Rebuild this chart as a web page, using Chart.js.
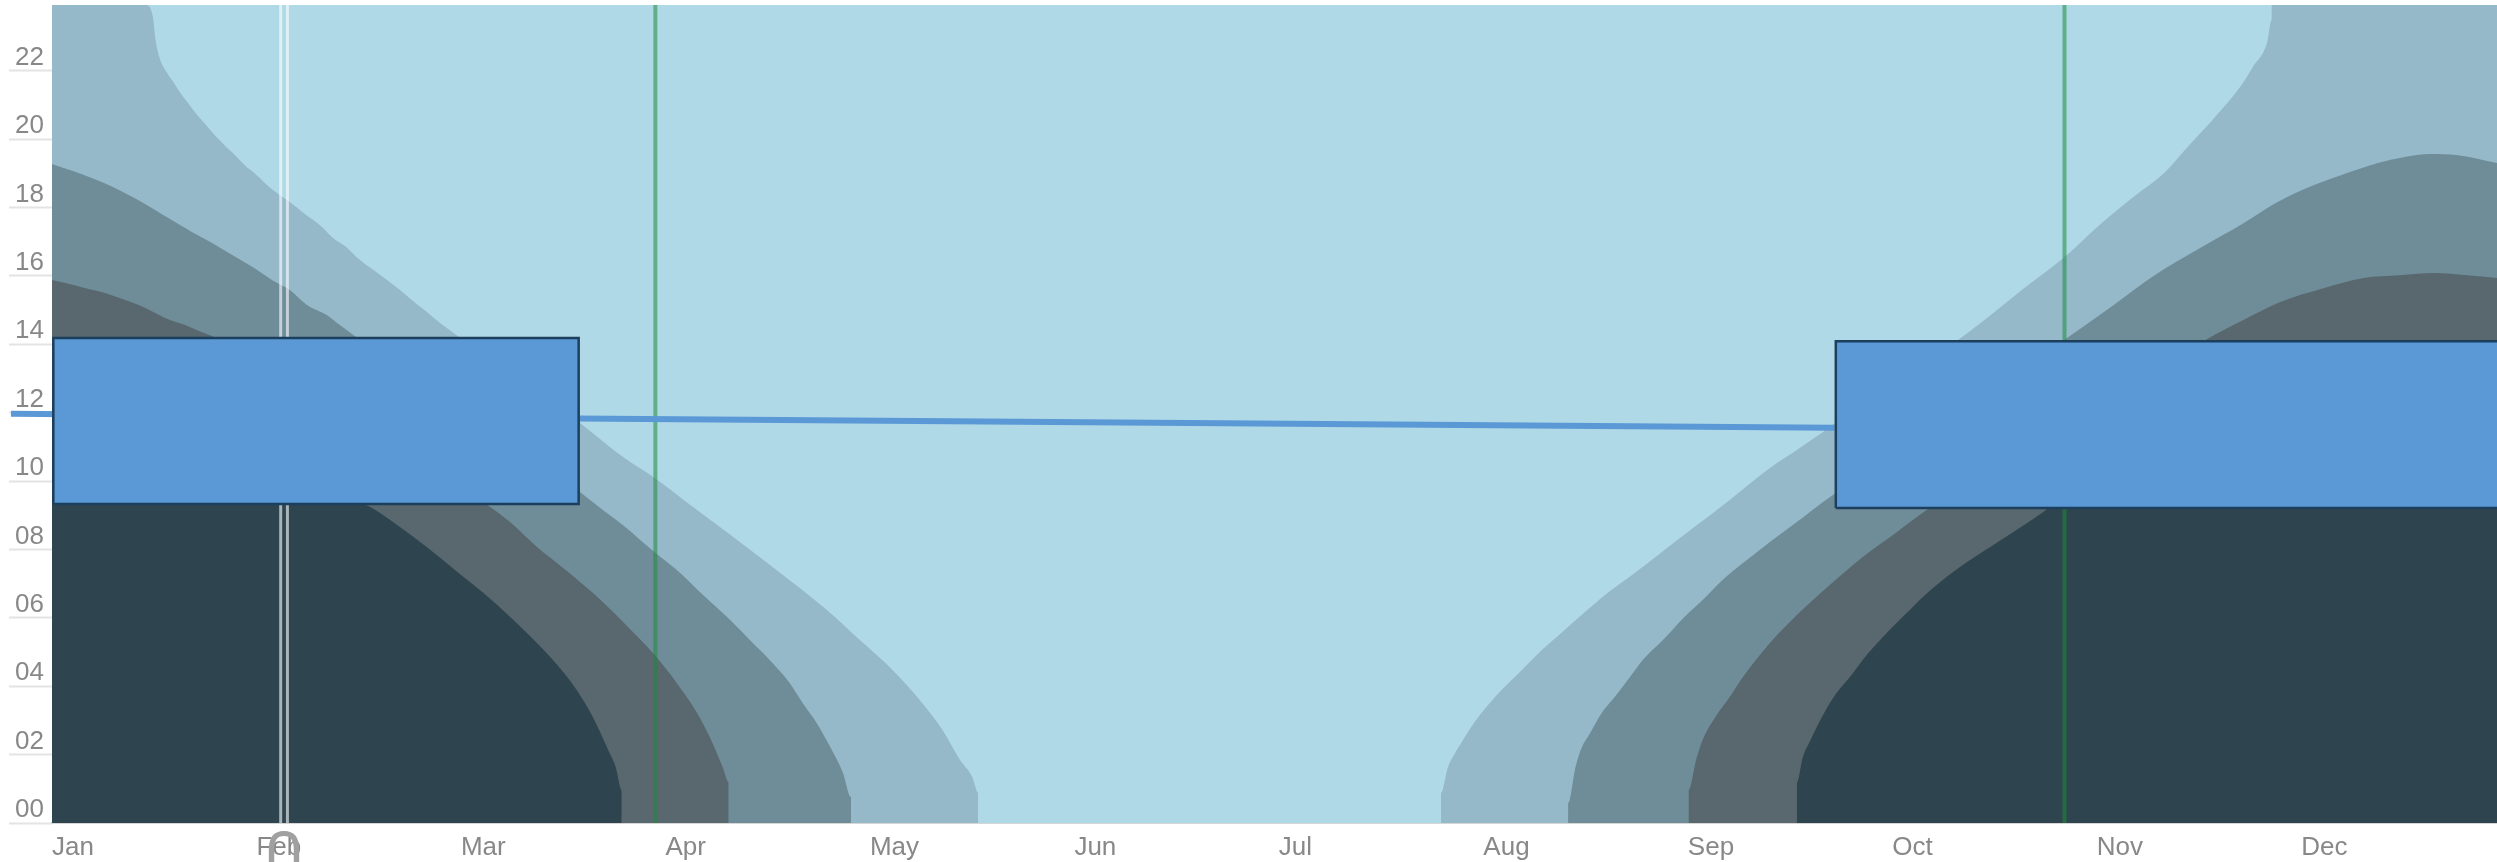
<!DOCTYPE html>
<html>
<head>
<meta charset="utf-8">
<title>Daylight chart</title>
<script src="https://cdn.jsdelivr.net/npm/chart.js@4"></script>
<style>
    html, body { margin: 0; padding: 0; background: #fff; overflow: hidden; }
    #wrap { position: relative; width: 2497px; height: 862px; }
</style>
</head>
<body>
<div id="wrap"><canvas id="sunChart"></canvas></div>
<script>
// Axis values
const monthLabels = ['Jan', 'Feb', 'Mar', 'Apr', 'May', 'Jun', 'Jul', 'Aug', 'Sep', 'Oct', 'Nov', 'Dec'];
const monthDays = [0, 30.4, 60.8, 91.2, 121.6, 152, 182.4, 212.8, 243.2, 273.6, 304, 334.4];
const hourTicks = [0, 2, 4, 6, 8, 10, 12, 14, 16, 18, 20, 22];
const dayMax = 363.5;
const hourMax = 23.92;

// Band edges, [day of year, hour]
const band1Early = [[0, 23.92], [13.9, 23.92], [15, 23.58], [15.4, 22.89], [16, 22.37], [17, 21.97], [18, 21.68], [19, 21.37], [20, 21.11], [21, 20.85], [22, 20.61], [22.9, 20.41], [23.9, 20.18], [24.9, 19.97], [25.9, 19.77], [26.9, 19.59], [27.9, 19.39], [28.9, 19.19], [29.9, 19.04], [30.9, 18.86], [32, 18.65], [33.9, 18.36], [35.3, 18.17], [37.8, 17.78], [39.8, 17.49], [41.8, 17.11], [43.7, 16.85], [45.8, 16.46], [47.8, 16.17], [49.8, 15.88], [51.8, 15.58], [53.8, 15.24], [55.7, 14.95], [57.7, 14.62], [59.7, 14.33], [60.7, 14.18], [78.5, 11.7], [84.9, 10.7], [89.6, 10.09], [95.3, 9.24], [100.3, 8.51], [105.2, 7.78], [110.2, 7.02], [115.2, 6.23], [120.1, 5.35], [125, 4.47], [129, 3.6], [132.4, 2.72], [135, 1.84], [136.8, 1.35], [137.7, 0.88], [137.7, 0]];
const band2Early = [[0, 19.27], [3, 19.07], [5.9, 18.86], [8.9, 18.61], [11.9, 18.31], [14.9, 17.98], [17.8, 17.63], [20.8, 17.28], [23.8, 16.96], [26.8, 16.61], [29.7, 16.27], [32.7, 15.88], [35.4, 15.58], [37.9, 15.15], [40.9, 14.85], [42.8, 14.56], [44.8, 14.27], [78.5, 9.68], [81.9, 9.15], [84.9, 8.71], [89.6, 7.92], [92.9, 7.4], [96.8, 6.67], [100.8, 5.94], [104.2, 5.26], [106.7, 4.77], [109.7, 4.09], [111.6, 3.51], [113.7, 2.92], [115.7, 2.22], [117.6, 1.46], [118.8, 0.76], [118.8, 0]];
const band3Early = [[0, 15.88], [2, 15.79], [5, 15.64], [7.9, 15.5], [10.9, 15.29], [13.9, 15.06], [16.8, 14.77], [19.8, 14.56], [22, 14.37], [24, 14.22], [64.7, 9.3], [68.1, 8.8], [72.1, 8.07], [76, 7.46], [80.4, 6.73], [84.9, 5.88], [89.6, 4.91], [92.9, 4.09], [95.9, 3.22], [97.8, 2.51], [99.7, 1.64], [100.6, 1.2], [100.6, 0]];
const band4Early = [[0, 12.37], [47.3, 9.24], [50.7, 8.8], [55.7, 8.07], [59.9, 7.4], [64.1, 6.73], [67.8, 6.08], [72.1, 5.26], [75.5, 4.53], [78, 3.89], [80.4, 3.1], [82.7, 2.13], [83.8, 1.64], [84.7, 0.96], [84.7, 0]];
const band1Late = [[206.5, 0], [206.5, 0.88], [207.5, 1.61], [208.6, 2.05], [209.6, 2.37], [211.5, 2.95], [213.5, 3.45], [215.5, 3.89], [218.5, 4.47], [221.5, 5.06], [224.5, 5.58], [227.4, 6.08], [231.3, 6.73], [235.3, 7.31], [239.3, 7.92], [243.2, 8.51], [246.8, 9.04], [250.9, 9.68], [255.4, 10.38], [259.4, 10.91], [263.3, 11.43], [265.1, 11.7], [283.3, 14.12], [288.2, 14.85], [292.8, 15.58], [299.2, 16.55], [304.7, 17.54], [309.4, 18.3], [314, 19.01], [318, 19.88], [321.2, 20.56], [325.3, 21.52], [327.2, 22.11], [329.3, 22.81], [330, 23.48], [330, 23.92], [363.5, 23.92]];
const band2Late = [[225.4, 0], [225.4, 0.58], [226.5, 1.64], [227.4, 2.19], [228.5, 2.57], [230.4, 3.22], [232.3, 3.68], [234.6, 4.27], [236.5, 4.77], [239.5, 5.35], [242.5, 5.99], [245.4, 6.52], [248.4, 7.11], [251.4, 7.6], [255.4, 8.22], [259.4, 8.8], [263.3, 9.39], [299.1, 14.12], [306.1, 15.09], [312.6, 16.02], [319.3, 16.81], [325.8, 17.54], [330.6, 18.13], [335.2, 18.57], [340.4, 18.95], [345.8, 19.3], [349.6, 19.47], [353.6, 19.56], [357.7, 19.53], [363.5, 19.3]];
const band3Late = [[243.3, 0], [243.3, 0.96], [244.5, 1.9], [245.4, 2.43], [247.5, 3.16], [249.4, 3.68], [251.4, 4.27], [255.4, 5.26], [259.4, 6.08], [264.3, 6.96], [269.2, 7.78], [274.3, 8.51], [278.7, 9.15], [320.1, 14.12], [325.8, 14.71], [331.2, 15.23], [337.7, 15.64], [343.7, 15.94], [349, 16.02], [354.2, 16.08], [359, 16.02], [363.5, 15.94]];
const band4Late = [[259.4, 0], [259.4, 1.17], [260.3, 1.93], [261.3, 2.37], [263.3, 3.16], [265.3, 3.8], [267.3, 4.27], [269.2, 4.77], [272.2, 5.44], [276.2, 6.23], [279.3, 6.81], [284.5, 7.6], [289.7, 8.27], [296, 9.09], [304.4, 10.32], [363.5, 12.37]];

// Summary marks
const noonLine = [[-6.1, 11.97], [78, 11.83], [265, 11.56]];
const boxEarly = { from: 0.2, to: 78.3, low: 9.33, high: 14.18 };
const boxLate = { from: 265.2, to: 372, low: 9.21, high: 14.09 };
const clockChangeDays = [89.7, 299.2];
const todayDays = [34.0, 35.0];

const bandColors = ['#96b9ca', '#6f8d99', '#59676e', '#2e444e'];

function bandDataset(points, color, order) {
    return {
        type: 'line',
        data: points.map(p => ({ x: p[0], y: p[1] })),
        backgroundColor: color,
        borderWidth: 0,
        pointRadius: 0,
        fill: 'start',
        cubicInterpolationMode: 'monotone',
        order: order
    };
}

function markerDataset(day, color, width, order) {
    return {
        type: 'line',
        data: [{ x: day, y: 0 }, { x: day, y: hourMax }],
        borderColor: color,
        borderWidth: width,
        pointRadius: 0,
        fill: false,
        order: order
    };
}

function boxDataset(box, order) {
    return {
        type: 'line',
        data: [
            { x: box.from, y: box.low },
            { x: box.from, y: box.high },
            { x: box.to, y: box.high },
            { x: box.to, y: box.low },
            { x: box.from, y: box.low }
        ],
        borderColor: '#1d3f5e',
        backgroundColor: '#5a99d6',
        borderWidth: 2.5,
        pointRadius: 0,
        fill: 'shape',
        order: order
    };
}

const datasets = [
    boxDataset(boxEarly, 1),
    boxDataset(boxLate, 1),
    {
        type: 'line',
        data: noonLine.map(p => ({ x: p[0], y: p[1] })),
        borderColor: '#5a99d6',
        borderWidth: 6,
        pointRadius: 0,
        fill: false,
        clip: false,
        order: 2
    },
    markerDataset(clockChangeDays[0], 'rgba(30, 140, 60, 0.55)', 4, 3),
    markerDataset(clockChangeDays[1], 'rgba(30, 140, 60, 0.55)', 4, 3),
    markerDataset(todayDays[0], 'rgba(255, 255, 255, 0.6)', 3, 3),
    markerDataset(todayDays[1], 'rgba(255, 255, 255, 0.6)', 3, 3),
    bandDataset(band4Early, bandColors[3], 4),
    bandDataset(band4Late, bandColors[3], 4),
    bandDataset(band3Early, bandColors[2], 5),
    bandDataset(band3Late, bandColors[2], 5),
    bandDataset(band2Early, bandColors[1], 6),
    bandDataset(band2Late, bandColors[1], 6),
    bandDataset(band1Early, bandColors[0], 7),
    bandDataset(band1Late, bandColors[0], 7),
    bandDataset([[0, hourMax], [dayMax, hourMax]], '#b0d9e7', 8)
];

// Grey mark hanging below the today lines, cut by the page edge
const todayMark = {
    id: 'todayMark',
    afterDraw(chart) {
        const ctx = chart.ctx;
        const x = chart.scales.x.getPixelForValue((todayDays[0] + todayDays[1]) / 2);
        ctx.save();
        ctx.fillStyle = '#a0a0a0';
        ctx.font = '64px "DejaVu Sans"';
        ctx.textAlign = 'center';
        ctx.textBaseline = 'alphabetic';
        ctx.fillText('∩', x, 868);
        ctx.restore();
    }
};

new Chart(document.getElementById('sunChart'), {
    type: 'line',
    data: { datasets: datasets },
    plugins: [todayMark],
    options: {
        responsive: true,
        maintainAspectRatio: false,
        animation: false,
        layout: { padding: { top: 5, left: 0, right: 0, bottom: 0 } },
        plugins: {
            legend: { display: false },
            tooltip: { enabled: false }
        },
        scales: {
            x: {
                type: 'linear',
                min: 0,
                max: dayMax,
                grid: { display: false },
                border: { display: true, color: '#d6d6d6', width: 2 },
                afterFit: scale => { scale.height = 39; },
                afterBuildTicks: scale => { scale.ticks = monthDays.map(v => ({ value: v })); },
                ticks: {
                    autoSkip: false,
                    maxRotation: 0,
                    align: 'start',
                    padding: 1,
                    color: '#888888',
                    font: { family: '"Liberation Sans"', size: 26 },
                    callback: (value, index) => monthLabels[index]
                }
            },
            y: {
                type: 'linear',
                min: 0,
                max: hourMax,
                border: { display: false },
                grid: {
                    drawOnChartArea: false,
                    tickColor: '#e4e4e4',
                    tickWidth: 2,
                    tickLength: 43
                },
                afterFit: scale => { scale.width = 52; },
                afterBuildTicks: scale => { scale.ticks = hourTicks.map(v => ({ value: v })); },
                ticks: {
                    padding: -35,
                    labelOffset: -13,
                    color: '#888888',
                    font: { family: '"Liberation Sans"', size: 26 },
                    callback: value => String(value).padStart(2, '0')
                }
            }
        }
    }
});
</script>
</body>
</html>
